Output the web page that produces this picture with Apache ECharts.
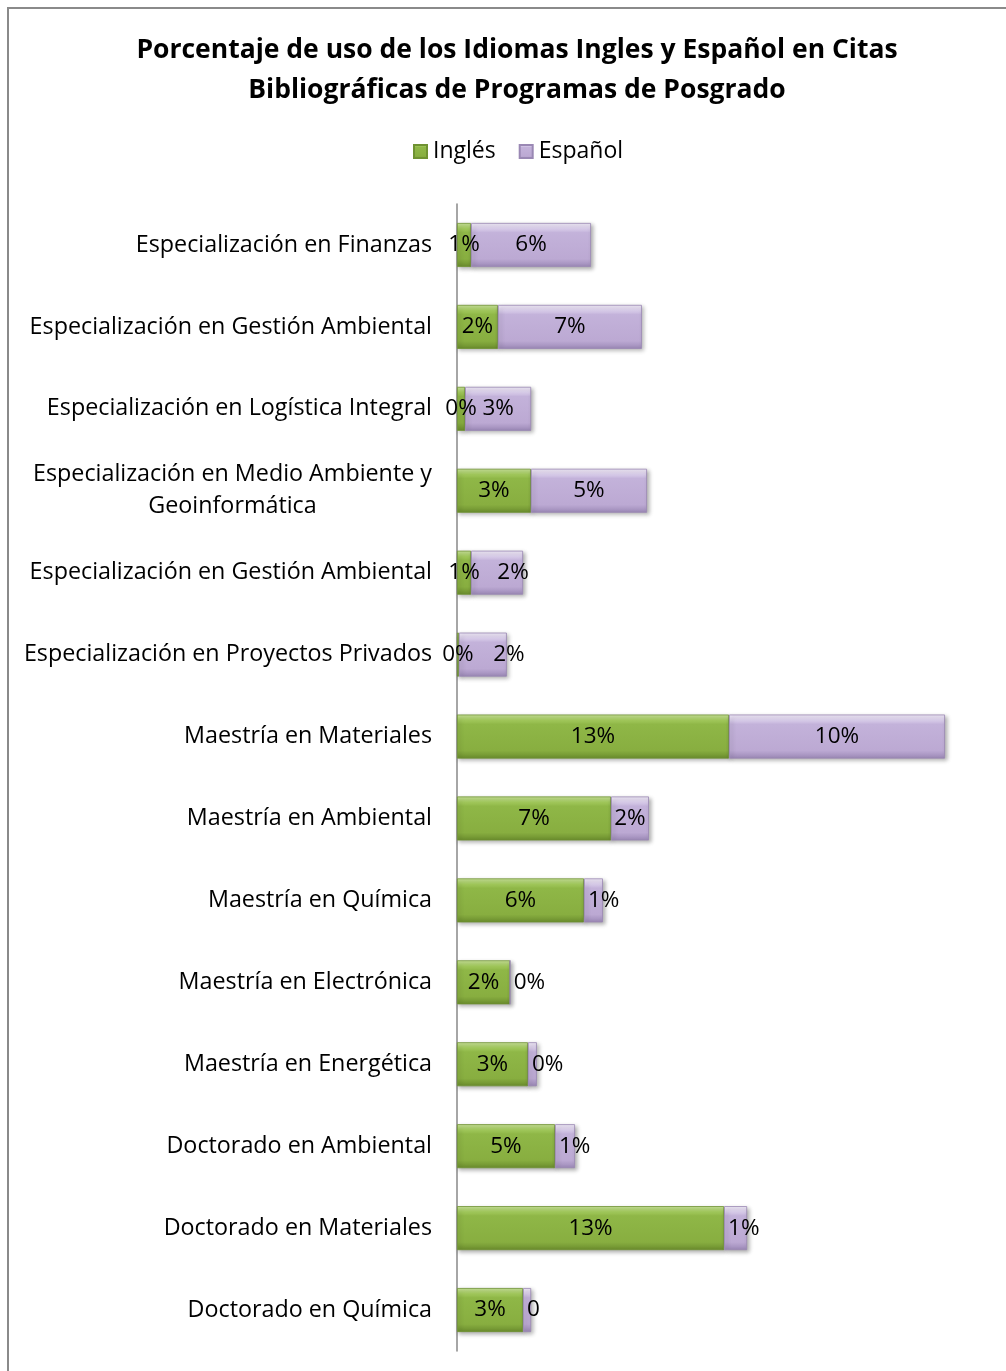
<!DOCTYPE html>
<html>
<head>
<meta charset="utf-8">
<script src="https://cdn.jsdelivr.net/npm/echarts@6/dist/echarts.min.js"></script>
<style>
html,body{margin:0;padding:0;background:#fff;}
#c{width:1006px;height:1371px;}
</style>
</head>
<body>
<div id="c"></div>
<script>
const titleLines = ['Porcentaje de uso de los Idiomas Ingles y Español en Citas', 'Bibliográficas de Programas de Posgrado'];
const seriesNames = ['Inglés', 'Español'];
const categories = [
  'Especialización en Finanzas',
  'Especialización en Gestión Ambiental',
  'Especialización en Logística Integral',
  'Especialización en Medio Ambiente y\nGeoinformática',
  'Especialización en Gestión Ambiental',
  'Especialización en Proyectos Privados',
  'Maestría en Materiales',
  'Maestría en Ambiental',
  'Maestría en Química',
  'Maestría en Electrónica',
  'Maestría en Energética',
  'Doctorado en Ambiental',
  'Doctorado en Materiales',
  'Doctorado en Química'
];
const inglesValues  = [0.66, 1.92, 0.38, 3.47, 0.66, 0.09, 12.77, 7.23, 5.96, 2.49, 3.33, 4.60, 12.54, 3.10];
const espanolValues = [5.63, 6.76, 3.10, 5.45, 2.44, 2.25, 10.14, 1.78, 0.89, 0.00, 0.42, 0.94, 1.08, 0.38];
const inglesLabels  = ['1%','2%','0%','3%','1%','0%','13%','7%','6%','2%','3%','5%','13%','3%'];
const espanolLabels = ['6%','7%','3%','5%','2%','2%','10%','2%','1%','0%','0%','1%','1%','0'];

const FONT = 'Open Sans';
const greenFill = new echarts.graphic.LinearGradient(0,0,0,1,[
  {offset:0, color:'#c9e39a'},
  {offset:0.13, color:'#a2c95c'},
  {offset:0.22, color:'#8fb747'},
  {offset:0.82, color:'#88ae40'},
  {offset:1, color:'#6a8c2d'}
]);
const purpleFill = new echarts.graphic.LinearGradient(0,0,0,1,[
  {offset:0, color:'#f1ebf8'},
  {offset:0.13, color:'#d9cdea'},
  {offset:0.22, color:'#c3b2da'},
  {offset:0.82, color:'#bca9d3'},
  {offset:1, color:'#9b88b6'}
]);
const barShadow = {shadowColor:'rgba(0,0,0,0.30)', shadowBlur:4, shadowOffsetX:2, shadowOffsetY:2};

const labelBase = {show:true, color:'#000', fontFamily:FONT, fontSize:22.5};

const inglesData = inglesValues.map((v,i)=>({value:v, label:{formatter:inglesLabels[i]}}));
const espanolData = espanolValues.map((v,i)=>{
  const item = {value:v, label:{formatter:espanolLabels[i]}};
  if (v < 1.2) { item.label.position = 'insideLeft'; item.label.distance = 4; }
  if (i === 4) item.label.offset = [16,0];
  if (i === 5) item.label.offset = [26,0];
  return item;
});

const chart = echarts.init(document.getElementById('c'));
chart.setOption({
  animation:false,
  backgroundColor:'#fff',
  graphic:[{type:'rect', shape:{x:8,y:8,width:1200,height:1600}, style:{fill:'none', stroke:'#8a8a8a', lineWidth:2}, z:-1, silent:true}],
  title:{
    text: titleLines.join('\n'),
    left: 512, top: 25, textAlign:'center',
    textStyle:{fontFamily:FONT, fontWeight:'bold', fontSize:26.5, lineHeight:40, color:'#000'}
  },
  legend:{
    data:seriesNames, top:135, left:408,
    icon:'rect', itemWidth:13, itemHeight:13, itemGap:23,
    textStyle:{fontFamily:FONT, fontSize:23, color:'#000', padding:[0,0,0,1]}
  },
  grid:{left:457, right:16.5, top:204, bottom:20, containLabel:false},
  xAxis:{type:'value', min:0, max:25, show:false},
  yAxis:{
    type:'category', inverse:true, data:categories,
    axisLine:{show:true, lineStyle:{color:'#888', width:1.5}},
    axisTick:{show:false},
    axisLabel:{
      margin:25, color:'#000', fontFamily:FONT, fontSize:23.3,
      formatter:(v)=> v.indexOf('\n')>=0 ? v.split('\n').map(s=>'{c|'+s+'}').join('\n') : v,
      rich:{c:{align:'center', fontFamily:FONT, fontSize:23.3, color:'#000', lineHeight:32}}
    }
  },
  series:[
    {name:seriesNames[0], type:'bar', stack:'t', barWidth:44, data:inglesData,
     itemStyle:Object.assign({color:greenFill, borderColor:'#6f9232', borderWidth:0.8}, barShadow),
     label:Object.assign({position:'inside'}, labelBase)},
    {name:seriesNames[1], type:'bar', stack:'t', barWidth:44, data:espanolData,
     itemStyle:Object.assign({color:purpleFill, borderColor:'#9a88b4', borderWidth:0.8}, barShadow),
     label:Object.assign({position:'inside'}, labelBase)}
  ]
});
</script>
</body>
</html>
